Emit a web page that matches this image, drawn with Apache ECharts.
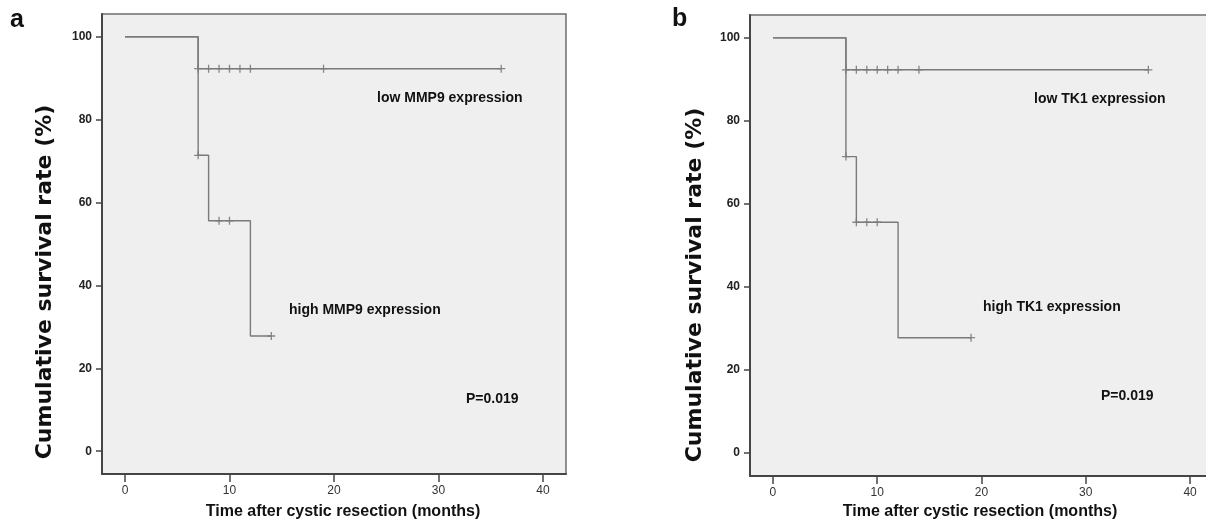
<!DOCTYPE html>
<html>
<head>
<meta charset="utf-8">
<script src="https://cdn.jsdelivr.net/npm/echarts@6/dist/echarts.min.js"></script>
<style>
  html, body { margin: 0; padding: 0; background: #ffffff; }
  #chart { width: 1206px; height: 520px; }
</style>
</head>
<body>
<div id="chart"></div>
<script>
// Kaplan–Meier curves: cumulative survival (%) by months after cystic resection

const xTicks = [0, 10, 20, 30, 40];
const yTicks = [0, 20, 40, 60, 80, 100];

// Panel a — MMP9
const lowMMP9Time = [0, 7, 36];
const lowMMP9Surv = [100, 92.3, 92.3];
const lowMMP9CensorTime = [7, 8, 9, 10, 11, 12, 19, 36];
const lowMMP9CensorSurv = [92.3, 92.3, 92.3, 92.3, 92.3, 92.3, 92.3, 92.3];
const highMMP9Time = [0, 7, 8, 12, 14];
const highMMP9Surv = [100, 71.4, 55.6, 27.8, 27.8];
const highMMP9CensorTime = [7, 9, 10, 14];
const highMMP9CensorSurv = [71.4, 55.6, 55.6, 27.8];

// Panel b — TK1
const lowTK1Time = [0, 7, 36];
const lowTK1Surv = [100, 92.3, 92.3];
const lowTK1CensorTime = [7, 8, 9, 10, 11, 12, 14, 36];
const lowTK1CensorSurv = [92.3, 92.3, 92.3, 92.3, 92.3, 92.3, 92.3, 92.3];
const highTK1Time = [0, 7, 8, 12, 19];
const highTK1Surv = [100, 71.4, 55.6, 27.8, 27.8];
const highTK1CensorTime = [7, 8, 9, 10, 19];
const highTK1CensorSurv = [71.4, 55.6, 55.6, 55.6, 27.8];

const pValueText = 'P=0.019';

const FONT = "'Liberation Sans', Arial, Helvetica, sans-serif";
const CURVE = '#7a7a7a';
const AXIS = '#454545';
const PLUS = 'path://M4.2,0h1.6v4.2h4.2v1.6h-4.2v4.2h-1.6v-4.2h-4.2v-1.6h4.2z';

const zip = (xs, ys) => xs.map((x, i) => [x, ys[i]]);

function stepSeries(idx, xs, ys) {
  return {
    type: 'line', step: 'end', xAxisIndex: idx, yAxisIndex: idx,
    data: zip(xs, ys), showSymbol: false, silent: true,
    lineStyle: { color: CURVE, width: 1.4 }
  };
}
function censorSeries(idx, xs, ys) {
  return {
    type: 'scatter', xAxisIndex: idx, yAxisIndex: idx,
    data: zip(xs, ys), symbol: PLUS, symbolSize: 8, silent: true,
    itemStyle: { color: '#6a6a6a' }
  };
}
function xAxisFor(idx) {
  return {
    type: 'value', gridIndex: idx, min: -2.2, max: 42.2,
    axisLine: { show: true, onZero: false, lineStyle: { color: AXIS, width: 2 } },
    axisTick: { show: true, customValues: xTicks, length: 8, lineStyle: { color: AXIS, width: 1.5 } },
    axisLabel: { customValues: xTicks, color: '#333', fontSize: 12, fontFamily: FONT, margin: 11 },
    splitLine: { show: false }
  };
}
function yAxisFor(idx) {
  return {
    type: 'value', gridIndex: idx, min: -5.5, max: 105.5,
    axisLine: { show: true, onZero: false, lineStyle: { color: AXIS, width: 2 } },
    axisTick: { show: true, customValues: yTicks, length: 6, lineStyle: { color: AXIS, width: 1.5 } },
    axisLabel: { customValues: yTicks, color: '#222', fontSize: 12, fontWeight: 'bold', fontFamily: FONT, margin: 10 },
    splitLine: { show: false }
  };
}
function txt(x, y, text, size, weight, align) {
  return {
    type: 'text', x: x, y: y, silent: true,
    style: {
      text: text, fill: '#111', font: weight + ' ' + size + 'px ' + FONT,
      textAlign: align, textVerticalAlign: 'middle'
    }
  };
}
function yTitle(x, y) {
  return {
    type: 'text', x: x, y: y, rotation: Math.PI / 2, silent: true,
    style: {
      text: 'Cumulative survival rate (%)', fill: '#111',
      font: "bold 22px 'DejaVu Sans', " + FONT,
      textAlign: 'center', textVerticalAlign: 'middle'
    }
  };
}

const gridStyle = {
  show: true, backgroundColor: '#efefef', borderColor: '#6e6e6e', borderWidth: 1.5,
  containLabel: false, outerBoundsMode: 'none'
};

const chart = echarts.init(document.getElementById('chart'), null, { renderer: 'canvas' });
chart.setOption({
  animation: false,
  backgroundColor: '#ffffff',
  grid: [
    Object.assign({ left: 102, top: 14, width: 464, height: 460 }, gridStyle),
    Object.assign({ left: 750, top: 15, width: 463, height: 461 }, gridStyle)
  ],
  xAxis: [xAxisFor(0), xAxisFor(1)],
  yAxis: [yAxisFor(0), yAxisFor(1)],
  series: [
    stepSeries(0, lowMMP9Time, lowMMP9Surv),
    stepSeries(0, highMMP9Time, highMMP9Surv),
    censorSeries(0, lowMMP9CensorTime, lowMMP9CensorSurv),
    censorSeries(0, highMMP9CensorTime, highMMP9CensorSurv),
    stepSeries(1, lowTK1Time, lowTK1Surv),
    stepSeries(1, highTK1Time, highTK1Surv),
    censorSeries(1, lowTK1CensorTime, lowTK1CensorSurv),
    censorSeries(1, highTK1CensorTime, highTK1CensorSurv)
  ],
  graphic: [
    txt(10, 20, 'a', 25, 'bold', 'left'),
    txt(672, 19, 'b', 25, 'bold', 'left'),
    yTitle(45, 282),
    yTitle(695, 285),
    txt(343, 512, 'Time after cystic resection (months)', 16, 'bold', 'center'),
    txt(980, 512, 'Time after cystic resection (months)', 16, 'bold', 'center'),
    txt(377, 98.5, 'low MMP9 expression', 14, 'bold', 'left'),
    txt(289, 310, 'high MMP9 expression', 14, 'bold', 'left'),
    txt(466, 399.5, pValueText, 14, 'bold', 'left'),
    txt(1034, 99, 'low TK1 expression', 14, 'bold', 'left'),
    txt(983, 307, 'high TK1 expression', 14, 'bold', 'left'),
    txt(1101, 396.5, pValueText, 14, 'bold', 'left')
  ]
});
</script>
</body>
</html>
